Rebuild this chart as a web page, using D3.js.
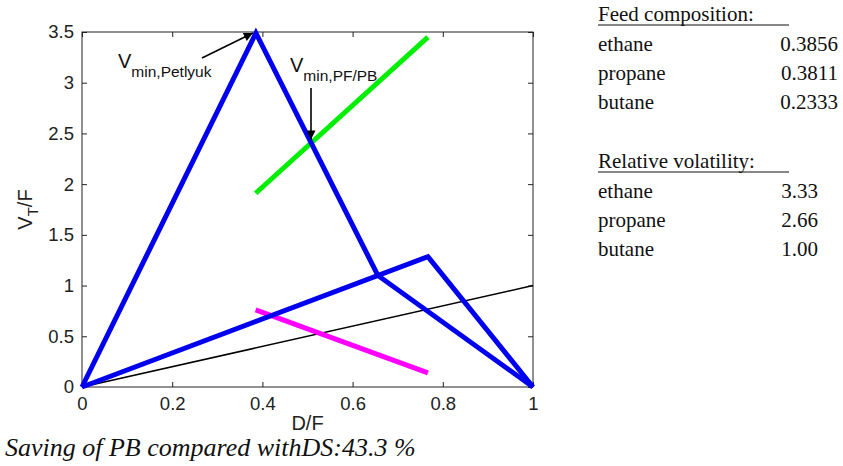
<!DOCTYPE html>
<html>
<head>
<meta charset="utf-8">
<script src="https://cdn.jsdelivr.net/npm/d3@7/dist/d3.min.js"></script>
<style>
  html, body { margin: 0; padding: 0; background: #fff; }
  svg { display: block; }
</style>
</head>
<body>
<div id="chart"></div>
<script>
// Vmin diagram: blue peaks, black reference line, green / magenta curves

// D/F, V_T/F pairs
const petlyukX = [0, 0.3856, 0.656, 1];
const petlyukY = [0, 3.49, 1.10, 0];
const bcX = [0, 0.767, 1];
const bcY = [0, 1.285, 0];
const diagX = [0, 1];
const diagY = [0, 1];
const greenX = [0.385, 0.767];
const greenY = [1.91, 3.45];
const magentaX = [0.385, 0.767];
const magentaY = [0.76, 0.14];

const xTicks = [0, 0.2, 0.4, 0.6, 0.8, 1];
const yTicks = [0, 0.5, 1, 1.5, 2, 2.5, 3, 3.5];

const components = ['ethane', 'propane', 'butane'];
const feedComposition = ['0.3856', '0.3811', '0.2333'];
const relVolatility = ['3.33', '2.66', '1.00'];
const savingText = 'Saving of PB compared withDS:43.3 %';

const W = 843, H = 466;
const plot = { left: 82, right: 533, top: 32, bottom: 387 };

const svg = d3.select('#chart').append('svg')
    .attr('width', W)
    .attr('height', H);

svg.append('rect').attr('width', W).attr('height', H).attr('fill', '#fff');

const x = d3.scaleLinear().domain([0, 1]).range([plot.left, plot.right]);
const y = d3.scaleLinear().domain([0, 3.5]).range([plot.bottom, plot.top]);

const axisFont = '"Liberation Sans", Arial, sans-serif';
const serif = '"Liberation Serif", "Times New Roman", serif';
const fmt = d3.format('');

// arrow marker
svg.append('defs').append('marker')
    .attr('id', 'arrow')
    .attr('viewBox', '0 0 10 10')
    .attr('refX', 10).attr('refY', 5)
    .attr('markerWidth', 12).attr('markerHeight', 9)
    .attr('markerUnits', 'userSpaceOnUse')
    .attr('orient', 'auto')
    .append('path')
    .attr('d', 'M0,0 L10,5 L0,10 Z')
    .attr('fill', '#000');

// axes (ticks point inward on all four sides)
const gx = svg.append('g')
    .attr('transform', `translate(0,${plot.bottom})`)
    .call(d3.axisBottom(x).tickValues(xTicks).tickFormat(fmt).tickSizeInner(-5).tickSizeOuter(0).tickPadding(10));
const gxTop = svg.append('g')
    .attr('transform', `translate(0,${plot.top})`)
    .call(d3.axisTop(x).tickValues(xTicks).tickSizeInner(-5).tickSizeOuter(0).tickFormat(''));
const gy = svg.append('g')
    .attr('transform', `translate(${plot.left},0)`)
    .call(d3.axisLeft(y).tickValues(yTicks).tickFormat(fmt).tickSizeInner(-5).tickSizeOuter(0).tickPadding(8));
const gyRight = svg.append('g')
    .attr('transform', `translate(${plot.right},0)`)
    .call(d3.axisRight(y).tickValues(yTicks).tickSizeInner(-5).tickSizeOuter(0).tickFormat(''));

[gx, gxTop, gy, gyRight].forEach(g => {
    g.select('.domain').remove();
    g.selectAll('line').attr('stroke', '#222');
    g.selectAll('text')
        .attr('font-family', axisFont)
        .attr('font-size', 18.5)
        .attr('fill', '#222');
});

svg.append('rect')
    .attr('x', plot.left).attr('y', plot.top)
    .attr('width', plot.right - plot.left)
    .attr('height', plot.bottom - plot.top)
    .attr('fill', 'none')
    .attr('stroke', '#222')
    .attr('stroke-width', 1);

// series
const line = d3.line().x(d => x(d[0])).y(d => y(d[1]));
const zip = (xs, ys) => xs.map((v, i) => [v, ys[i]]);

const series = [
    { pts: zip(diagX, diagY), color: '#000', width: 1.5 },
    { pts: zip(greenX, greenY), color: '#00ee00', width: 5 },
    { pts: zip(magentaX, magentaY), color: '#ff00ff', width: 5 },
    { pts: zip(bcX, bcY), color: '#0000ee', width: 5 },
    { pts: zip(petlyukX, petlyukY), color: '#0000ee', width: 5 }
];

svg.selectAll('.series')
    .data(series)
    .enter()
    .append('path')
    .attr('class', 'series')
    .attr('d', d => line(d.pts))
    .attr('fill', 'none')
    .attr('stroke', d => d.color)
    .attr('stroke-width', d => d.width)
    .attr('stroke-linejoin', 'miter')
    .attr('stroke-linecap', 'butt');

// axis titles
svg.append('text')
    .attr('x', x(0.5))
    .attr('y', 430)
    .attr('text-anchor', 'middle')
    .attr('font-family', axisFont)
    .attr('font-size', 20)
    .attr('fill', '#222')
    .text('D/F');

const yl = svg.append('text')
    .attr('transform', `translate(32,${(plot.top + plot.bottom) / 2}) rotate(-90)`)
    .attr('text-anchor', 'middle')
    .attr('font-family', axisFont)
    .attr('font-size', 20)
    .attr('fill', '#222');
yl.append('tspan').text('V');
yl.append('tspan').attr('font-size', 15).attr('dy', 6).text('T');
yl.append('tspan').attr('dy', -6).text('/F');

// annotations
function annotate(tx, ty, sub, from, to) {
    const t = svg.append('text')
        .attr('x', tx).attr('y', ty)
        .attr('font-family', axisFont)
        .attr('font-size', 20)
        .attr('fill', '#111');
    t.append('tspan').text('V');
    t.append('tspan').attr('font-size', 15.5).attr('dy', 9).text(sub);
    svg.append('line')
        .attr('x1', from[0]).attr('y1', from[1])
        .attr('x2', to[0]).attr('y2', to[1])
        .attr('stroke', '#000')
        .attr('stroke-width', 1.6)
        .attr('marker-end', 'url(#arrow)');
}
annotate(118, 68, 'min,Petlyuk', [202, 58], [x(0.3856) - 3, y(3.49)]);
annotate(290, 72, 'min,PF/PB', [311, 88], [311, y(2.40) - 4]);

// side table
const table = svg.append('g')
    .attr('font-family', serif)
    .attr('font-size', 21)
    .attr('fill', '#111');

function block(title, top, values, valueRight) {
    table.append('text').attr('x', 598).attr('y', top).text(title);
    table.append('line')
        .attr('x1', 598).attr('x2', 789)
        .attr('y1', top + 4).attr('y2', top + 4)
        .attr('stroke', '#111').attr('stroke-width', 1.2);
    components.forEach((c, i) => {
        table.append('text').attr('x', 598).attr('y', top + 30 + i * 29).text(c);
        table.append('text')
            .attr('x', valueRight).attr('y', top + 30 + i * 29)
            .attr('text-anchor', 'end')
            .text(values[i]);
    });
}
block('Feed composition:', 21, feedComposition, 838);
block('Relative volatility:', 168, relVolatility, 818);

// bottom note
svg.append('text')
    .attr('x', 5).attr('y', 456)
    .attr('font-family', serif)
    .attr('font-style', 'italic')
    .attr('font-size', 26)
    .attr('fill', '#111')
    .text(savingText);
</script>
</body>
</html>
